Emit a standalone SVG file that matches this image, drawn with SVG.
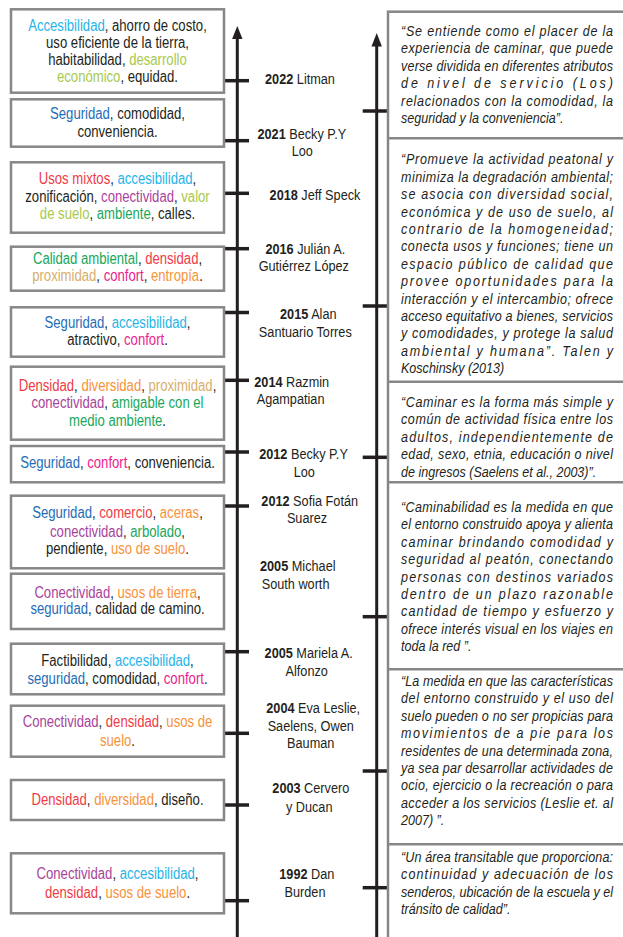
<svg xmlns="http://www.w3.org/2000/svg" width="623" height="937" viewBox="0 0 623 937">
<defs>
<style>
.box{fill:#fff;stroke:#878787;stroke-width:2.5}
.rbox{fill:#fff;stroke:#878787;stroke-width:2.5}
.ax{stroke:#231f20;stroke-width:3;fill:none}
.tk{stroke:#231f20;stroke-width:3.5}
.ah{fill:#231f20}
.lt{font-family:"Liberation Sans",Arial,sans-serif;font-size:16px;fill:#231f20;text-anchor:middle}
.ml{font-family:"Liberation Sans",Arial,sans-serif;font-size:15.5px;fill:#231f20;text-anchor:middle}
.ml .y{font-weight:bold}
.st{text-anchor:start}
.q{font-family:"Liberation Sans",Arial,sans-serif;font-size:15.3px;font-style:italic;fill:#231f20}
.bl{fill:#1f6db6}.cy{fill:#25b4e9}.yg{fill:#a8c94c}.rd{fill:#ef3b47}.pu{fill:#a9439b}.gr{fill:#17a75a}.tn{fill:#d8ae6c}.pk{fill:#ec1b8e}.or{fill:#f7923a}
</style>
</defs>
<rect width="623" height="937" fill="#fff"/>

<g id="connectors">
<line class="ax" x1="237.3" y1="36" x2="237.3" y2="937"/>
<polygon class="ah" points="237.3,26 242.5,39 232.1,39"/>
<line class="ax" x1="376.7" y1="44" x2="376.7" y2="937"/>
<polygon class="ah" points="376.7,33 381.9,46.5 371.5,46.5"/>
<g class="tk">
<line x1="224" y1="80.7" x2="249" y2="80.7"/>
<line x1="224" y1="140.7" x2="249" y2="140.7"/>
<line x1="224" y1="193.3" x2="249" y2="193.3"/>
<line x1="224" y1="248.7" x2="249" y2="248.7"/>
<line x1="224" y1="312.5" x2="249" y2="312.5"/>
<line x1="224" y1="380.3" x2="249" y2="380.3"/>
<line x1="224" y1="452" x2="249" y2="452"/>
<line x1="224" y1="506" x2="249" y2="506"/>
<line x1="224" y1="651.7" x2="249" y2="651.7"/>
<line x1="224" y1="733.3" x2="249" y2="733.3"/>
<line x1="224" y1="805" x2="249" y2="805"/>
<line x1="224" y1="900.7" x2="249" y2="900.7"/>
<line x1="362.7" y1="111" x2="388" y2="111"/>
<line x1="362.7" y1="306" x2="388" y2="306"/>
<line x1="362.7" y1="457.3" x2="388" y2="457.3"/>
<line x1="362.7" y1="616.7" x2="388" y2="616.7"/>
<line x1="362.7" y1="771" x2="388" y2="771"/>
<line x1="362.7" y1="887.7" x2="388" y2="887.7"/>
</g>
</g>

<g id="n2022">
<rect class="box" x="11" y="9.3" width="213" height="83.4"/>
<g transform="translate(117.5 0) scale(0.82 1)">
<text class="lt" x="0" y="30.7"><tspan class="cy">Accesibilidad</tspan>, ahorro de costo,</text>
<text class="lt" x="0" y="47.7">uso eficiente de la tierra,</text>
<text class="lt" x="0" y="65">habitabilidad, <tspan class="yg">desarrollo</tspan></text>
<text class="lt" x="0" y="82"><tspan class="yg">económico</tspan>, equidad.</text>
</g>
<text class="ml" x="0" y="84" transform="translate(300 0) scale(0.82 1)"><tspan class="y">2022</tspan> Litman</text>
</g>
<g id="n2021">
<rect class="box" x="11" y="99.3" width="213" height="47.4"/>
<g transform="translate(117.5 0) scale(0.82 1)">
<text class="lt" x="0" y="119"><tspan class="bl">Seguridad</tspan>, comodidad,</text>
<text class="lt" x="0" y="136.7">conveniencia.</text>
</g>
<text class="ml" x="0" y="138.7" transform="translate(301.8 0) scale(0.82 1)"><tspan class="y">2021</tspan> Becky P.Y</text>
<text class="ml" x="0" y="156.3" transform="translate(302.3 0) scale(0.82 1)">Loo</text>
</g>
<g id="n2018">
<rect class="box" x="11" y="162.3" width="213" height="70.4"/>
<g transform="translate(117.5 0) scale(0.82 1)">
<text class="lt" x="0" y="184.3"><tspan class="rd">Usos mixtos</tspan>, <tspan class="cy">accesibilidad</tspan>,</text>
<text class="lt" x="0" y="202">zonificación, <tspan class="pu">conectividad</tspan>, <tspan class="yg">valor</tspan></text>
<text class="lt" x="0" y="219.3"><tspan class="yg">de suelo</tspan>, <tspan class="gr">ambiente</tspan>, calles.</text>
</g>
<text class="ml" x="0" y="200" transform="translate(315 0) scale(0.82 1)"><tspan class="y">2018</tspan> Jeff Speck</text>
</g>
<g id="n2016">
<rect class="box" x="11" y="246.7" width="213" height="44"/>
<g transform="translate(117.5 0) scale(0.82 1)">
<text class="lt" x="0" y="264"><tspan class="gr">Calidad ambiental</tspan>, <tspan class="rd">densidad</tspan>,</text>
<text class="lt" x="0" y="281"><tspan class="tn">proximidad</tspan>, <tspan class="pk">confort</tspan>, <tspan class="or">entropía</tspan>.</text>
</g>
<text class="ml" x="0" y="254.3" transform="translate(305.3 0) scale(0.82 1)"><tspan class="y">2016</tspan> Julián A.</text>
<text class="ml" x="0" y="271" transform="translate(303.8 0) scale(0.82 1)">Gutiérrez López</text>
</g>
<g id="n2015">
<rect class="box" x="11" y="307.3" width="213" height="49.4"/>
<g transform="translate(117.5 0) scale(0.82 1)">
<text class="lt" x="0" y="327.7"><tspan class="bl">Seguridad</tspan>, <tspan class="cy">accesibilidad</tspan>,</text>
<text class="lt" x="0" y="345">atractivo, <tspan class="pk">confort</tspan>.</text>
</g>
<text class="ml" x="0" y="319.3" transform="translate(308.3 0) scale(0.82 1)"><tspan class="y">2015</tspan> Alan</text>
<text class="ml" x="0" y="336.7" transform="translate(305.3 0) scale(0.82 1)">Santuario Torres</text>
</g>
<g id="n2014">
<rect class="box" x="11" y="366.7" width="213" height="73"/>
<g transform="translate(117.5 0) scale(0.82 1)">
<text class="lt" x="0" y="390.7"><tspan class="rd">Densidad</tspan>, <tspan class="or">diversidad</tspan>, <tspan class="tn">proximidad</tspan>,</text>
<text class="lt" x="0" y="408.3"><tspan class="pu">conectividad</tspan>, <tspan class="gr">amigable con el</tspan></text>
<text class="lt" x="0" y="425.7"><tspan class="gr">medio ambiente</tspan>.</text>
</g>
<text class="ml st" x="0" y="386.7" transform="translate(254.3 0) scale(0.82 1)"><tspan class="y">2014</tspan> Razmin</text>
<text class="ml st" x="0" y="404" transform="translate(256.7 0) scale(0.82 1)">Agampatian</text>
</g>
<g id="n2012a">
<rect class="box" x="11" y="446" width="213" height="36.3"/>
<g transform="translate(117.5 0) scale(0.82 1)">
<text class="lt" x="0" y="468.3"><tspan class="bl">Seguridad</tspan>, <tspan class="pk">confort</tspan>, conveniencia.</text>
</g>
<text class="ml" x="0" y="459.3" transform="translate(303.5 0) scale(0.82 1)"><tspan class="y">2012</tspan> Becky P.Y</text>
<text class="ml" x="0" y="476.7" transform="translate(304.3 0) scale(0.82 1)">Loo</text>
</g>
<g id="n2012b">
<rect class="box" x="11" y="495.7" width="213" height="72.6"/>
<g transform="translate(117.5 0) scale(0.82 1)">
<text class="lt" x="0" y="518.3"><tspan class="bl">Seguridad</tspan>, <tspan class="rd">comercio</tspan>, <tspan class="or">aceras</tspan>,</text>
<text class="lt" x="0" y="536.7"><tspan class="pu">conectividad</tspan>, <tspan class="gr">arbolado</tspan>,</text>
<text class="lt" x="0" y="554">pendiente, <tspan class="or">uso de suelo</tspan>.</text>
</g>
<text class="ml" x="0" y="506" transform="translate(309.7 0) scale(0.82 1)"><tspan class="y">2012</tspan> Sofia Fotán</text>
<text class="ml" x="0" y="523.3" transform="translate(307 0) scale(0.82 1)">Suarez</text>
</g>
<g id="n2005a">
<rect class="box" x="11" y="573.7" width="213" height="55.3"/>
<g transform="translate(117.5 0) scale(0.82 1)">
<text class="lt" x="0" y="598.3"><tspan class="pu">Conectividad</tspan>, <tspan class="or">usos de tierra</tspan>,</text>
<text class="lt" x="0" y="614.5"><tspan class="bl">seguridad</tspan>, calidad de camino.</text>
</g>
<text class="ml st" x="0" y="571" transform="translate(260 0) scale(0.82 1)"><tspan class="y">2005</tspan> Michael</text>
<text class="ml st" x="0" y="589.3" transform="translate(261.7 0) scale(0.82 1)">South worth</text>
</g>
<g id="n2005b">
<rect class="box" x="11" y="643.7" width="213" height="50.6"/>
<g transform="translate(117.5 0) scale(0.82 1)">
<text class="lt" x="0" y="665.7">Factibilidad, <tspan class="cy">accesibilidad</tspan>,</text>
<text class="lt" x="0" y="684"><tspan class="bl">seguridad</tspan>, comodidad, <tspan class="pk">confort</tspan>.</text>
</g>
<text class="ml" x="0" y="658.3" transform="translate(308.7 0) scale(0.82 1)"><tspan class="y">2005</tspan> Mariela A.</text>
<text class="ml" x="0" y="675.7" transform="translate(306.7 0) scale(0.82 1)">Alfonzo</text>
</g>
<g id="n2004">
<rect class="box" x="11" y="705.7" width="213" height="51"/>
<g transform="translate(117.5 0) scale(0.82 1)">
<text class="lt" x="0" y="726.7"><tspan class="pu">Conectividad</tspan>, <tspan class="rd">densidad</tspan>, <tspan class="or">usos de</tspan></text>
<text class="lt" x="0" y="746"><tspan class="or">suelo</tspan>.</text>
</g>
<text class="ml" x="0" y="713.3" transform="translate(313.2 0) scale(0.82 1)"><tspan class="y">2004</tspan> Eva Leslie,</text>
<text class="ml" x="0" y="730.7" transform="translate(310.7 0) scale(0.82 1)">Saelens, Owen</text>
<text class="ml" x="0" y="748.3" transform="translate(310.7 0) scale(0.82 1)">Bauman</text>
</g>
<g id="n2003">
<rect class="box" x="11" y="780" width="213" height="40"/>
<g transform="translate(117.5 0) scale(0.82 1)">
<text class="lt" x="0" y="805"><tspan class="rd">Densidad</tspan>, <tspan class="or">diversidad</tspan>, diseño.</text>
</g>
<text class="ml" x="0" y="793.3" transform="translate(310.8 0) scale(0.82 1)"><tspan class="y">2003</tspan> Cervero</text>
<text class="ml" x="0" y="811.7" transform="translate(309.2 0) scale(0.82 1)">y Ducan</text>
</g>
<g id="n1992">
<rect class="box" x="11" y="853.3" width="213" height="60"/>
<g transform="translate(117.5 0) scale(0.82 1)">
<text class="lt" x="0" y="879"><tspan class="pu">Conectividad</tspan>, <tspan class="cy">accesibilidad</tspan>,</text>
<text class="lt" x="0" y="897.7"><tspan class="rd">densidad</tspan>, <tspan class="or">usos de suelo</tspan>.</text>
</g>
<text class="ml" x="0" y="879.3" transform="translate(306.8 0) scale(0.82 1)"><tspan class="y">1992</tspan> Dan</text>
<text class="ml" x="0" y="897.3" transform="translate(305 0) scale(0.82 1)">Burden</text>
</g>

<g id="definiciones">
<rect class="rbox" x="388" y="11.7" width="250" height="940"/>
<line class="rbox" x1="388" y1="138.3" x2="623" y2="138.3"/>
<line class="rbox" x1="388" y1="381.7" x2="623" y2="381.7"/>
<line class="rbox" x1="388" y1="482.3" x2="623" y2="482.3"/>
<line class="rbox" x1="388" y1="669.3" x2="623" y2="669.3"/>
<line class="rbox" x1="388" y1="844.3" x2="623" y2="844.3"/>
</g>
<g id="def1" transform="translate(401 0) scale(0.82 1)">
<text class="q" x="0" y="36" textLength="258.5" lengthAdjust="spacing">“Se entiende como el placer de la</text>
<text class="q" x="0" y="53.5" textLength="258.5" lengthAdjust="spacing">experiencia de caminar, que puede</text>
<text class="q" x="0" y="71" textLength="258.5" lengthAdjust="spacing">verse dividida en diferentes atributos</text>
<text class="q" x="0" y="88.5" textLength="258.5" lengthAdjust="spacing">de nivel de servicio (Los)</text>
<text class="q" x="0" y="106" textLength="258.5" lengthAdjust="spacing">relacionados con la comodidad, la</text>
<text class="q" x="0" y="123.5">seguridad y la conveniencia”.</text>
</g>
<g id="def2" transform="translate(401 0) scale(0.82 1)">
<text class="q" x="0" y="164.5" textLength="258.5" lengthAdjust="spacing">“Promueve la actividad peatonal y</text>
<text class="q" x="0" y="181.9" textLength="258.5" lengthAdjust="spacing">minimiza la degradación ambiental;</text>
<text class="q" x="0" y="199.3" textLength="258.5" lengthAdjust="spacing">se asocia con diversidad social,</text>
<text class="q" x="0" y="216.7" textLength="258.5" lengthAdjust="spacing">económica y de uso de suelo, al</text>
<text class="q" x="0" y="234.1" textLength="258.5" lengthAdjust="spacing">contrario de la homogeneidad;</text>
<text class="q" x="0" y="251.5" textLength="258.5" lengthAdjust="spacing">conecta usos y funciones; tiene un</text>
<text class="q" x="0" y="268.9" textLength="258.5" lengthAdjust="spacing">espacio público de calidad que</text>
<text class="q" x="0" y="286.3" textLength="258.5" lengthAdjust="spacing">provee oportunidades para la</text>
<text class="q" x="0" y="303.7" textLength="258.5" lengthAdjust="spacing">interacción y el intercambio; ofrece</text>
<text class="q" x="0" y="321.1" textLength="258.5" lengthAdjust="spacing">acceso equitativo a bienes, servicios</text>
<text class="q" x="0" y="338.5" textLength="258.5" lengthAdjust="spacing">y comodidades, y protege la salud</text>
<text class="q" x="0" y="355.9" textLength="258.5" lengthAdjust="spacing">ambiental y humana”. Talen y</text>
<text class="q" x="0" y="373.3">Koschinsky (2013)</text>
</g>
<g id="def3" transform="translate(401 0) scale(0.82 1)">
<text class="q" x="0" y="407" textLength="258.5" lengthAdjust="spacing">“Caminar es la forma más simple y</text>
<text class="q" x="0" y="424.4" textLength="258.5" lengthAdjust="spacing">común de actividad física entre los</text>
<text class="q" x="0" y="441.8" textLength="258.5" lengthAdjust="spacing">adultos, independientemente de</text>
<text class="q" x="0" y="459.2" textLength="258.5" lengthAdjust="spacing">edad, sexo, etnia, educación o nivel</text>
<text class="q" x="0" y="476.6">de ingresos (Saelens et al., 2003)”.</text>
</g>
<g id="def4" transform="translate(401 0) scale(0.82 1)">
<text class="q" x="0" y="512" textLength="258.5" lengthAdjust="spacing">“Caminabilidad es la medida en que</text>
<text class="q" x="0" y="529.4" textLength="258.5" lengthAdjust="spacing">el entorno construido apoya y alienta</text>
<text class="q" x="0" y="546.8" textLength="258.5" lengthAdjust="spacing">caminar brindando comodidad y</text>
<text class="q" x="0" y="564.2" textLength="258.5" lengthAdjust="spacing">seguridad al peatón, conectando</text>
<text class="q" x="0" y="581.6" textLength="258.5" lengthAdjust="spacing">personas con destinos variados</text>
<text class="q" x="0" y="599" textLength="258.5" lengthAdjust="spacing">dentro de un plazo razonable</text>
<text class="q" x="0" y="616.4" textLength="258.5" lengthAdjust="spacing">cantidad de tiempo y esfuerzo y</text>
<text class="q" x="0" y="633.8" textLength="258.5" lengthAdjust="spacing">ofrece interés visual en los viajes en</text>
<text class="q" x="0" y="651.2">toda la red ”.</text>
</g>
<g id="def5" transform="translate(401 0) scale(0.82 1)">
<text class="q" x="0" y="686" textLength="258.5" lengthAdjust="spacing">“La medida en que las características</text>
<text class="q" x="0" y="703.4" textLength="258.5" lengthAdjust="spacing">del entorno construido y el uso del</text>
<text class="q" x="0" y="720.8" textLength="258.5" lengthAdjust="spacing">suelo pueden o no ser propicias para</text>
<text class="q" x="0" y="738.2" textLength="258.5" lengthAdjust="spacing">movimientos de a pie para los</text>
<text class="q" x="0" y="755.6" textLength="258.5" lengthAdjust="spacing">residentes de una determinada zona,</text>
<text class="q" x="0" y="773" textLength="258.5" lengthAdjust="spacing">ya sea par desarrollar actividades de</text>
<text class="q" x="0" y="790.4" textLength="258.5" lengthAdjust="spacing">ocio, ejercicio o la recreación o para</text>
<text class="q" x="0" y="807.8" textLength="258.5" lengthAdjust="spacing">acceder a los servicios (Leslie et. al</text>
<text class="q" x="0" y="825.2">2007) ”.</text>
</g>
<g id="def6" transform="translate(401 0) scale(0.82 1)">
<text class="q" x="0" y="862" textLength="258.5" lengthAdjust="spacing">“Un área transitable que proporciona:</text>
<text class="q" x="0" y="879.4" textLength="258.5" lengthAdjust="spacing">continuidad y adecuación de los</text>
<text class="q" x="0" y="896.8" textLength="258.5" lengthAdjust="spacing">senderos, ubicación de la escuela y el</text>
<text class="q" x="0" y="914.2">tránsito de calidad”.</text>
</g>
</svg>
